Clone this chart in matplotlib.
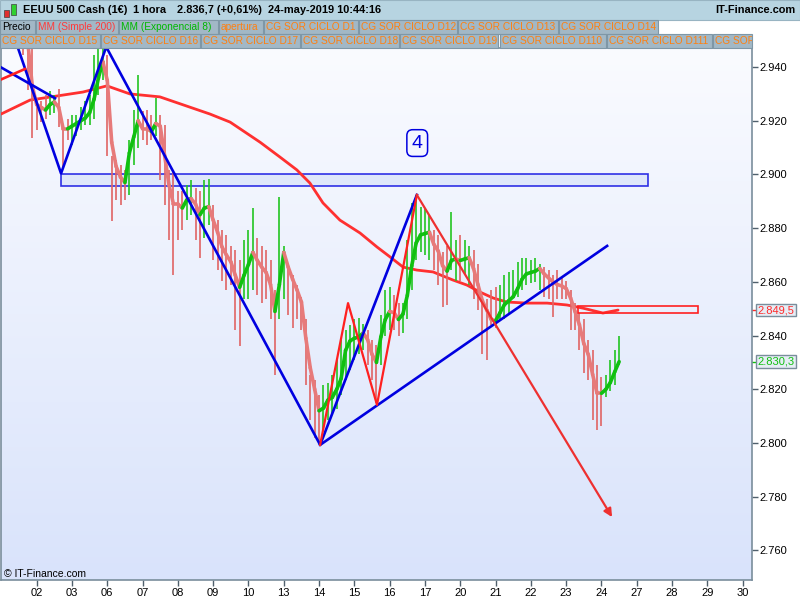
import numpy as np
import matplotlib
matplotlib.use('Agg')
import matplotlib.pyplot as plt
from matplotlib.collections import LineCollection
from matplotlib.colors import LinearSegmentedColormap
from matplotlib.patches import Rectangle
import matplotlib.transforms as mtransforms

plt.rcParams['font.family'] = ['Liberation Sans', 'DejaVu Sans']

# --- Data (S&P 500 cash, 3-hour bars, prices in points) ---
day_labels = ['02', '03', '06', '07', '08', '09', '10', '13', '14', '15', '16',
              '17', '20', '21', '22', '23', '24', '27', '28', '29', '30']
bar_start = -1.0      # first bar, in trading days from the "02" tick
bar_step = 0.125      # one bar = 3 hours

highs = [2962, 2961, 2960, 2960, 2959, 2958, 2957, 2950, 2928.5, 2927.5,
         2929.5, 2931, 2929.5, 2932, 2918.5, 2920.5, 2922, 2922, 2925, 2927.5,
         2929.5, 2944.5, 2948, 2949, 2944.5, 2907, 2905.5, 2903.5, 2901.5, 2913,
         2924, 2937, 2923.5, 2924, 2922, 2928.5, 2922, 2918.5, 2901.5, 2901,
         2894, 2894, 2896, 2898, 2895, 2894, 2898, 2898.5, 2888.5, 2883,
         2879.5, 2877.5, 2873.5, 2872, 2868, 2875.5, 2879.5, 2887.5, 2876.5, 2873.5,
         2872, 2868, 2857, 2891.5, 2873.5, 2866.5, 2862.5, 2859, 2854.5, 2846,
         2825.5, 2823.5, 2818, 2821.5, 2822.5, 2825.5, 2831, 2838.5, 2842, 2844,
         2846, 2846.5, 2844.5, 2842, 2838.5, 2836.5, 2847.5, 2857, 2858, 2855,
         2852, 2852, 2875.5, 2889.5, 2892.5, 2888, 2887, 2885, 2879.5, 2877.5,
         2871, 2873.5, 2886, 2875.5, 2877.5, 2875.5, 2873.5, 2872, 2866.5, 2854.5,
         2853.5, 2857, 2858, 2859, 2862.5, 2863.5, 2864.5, 2867.5, 2869, 2869,
         2868, 2869, 2866.5, 2865.5, 2864.5, 2862.5, 2864.5, 2862, 2860.5, 2857,
         2852, 2848.5, 2846, 2838.5, 2834.5, 2829, 2824.5, 2825.5, 2831, 2834.5,
         2840]
lows = [2951, 2951, 2950, 2950, 2949, 2944.5, 2931.5, 2913.5, 2916.5, 2919.5,
        2920.5, 2922, 2923, 2917.5, 2902.5, 2913, 2911, 2914.5, 2916.5, 2918.5,
        2918.5, 2920.5, 2929.5, 2935, 2907, 2882.5, 2890.5, 2888.5, 2890.5, 2892.5,
        2903.5, 2910, 2913, 2911, 2913, 2914.5, 2898, 2888.5, 2875.5, 2862.5,
        2875.5, 2879.5, 2883, 2885, 2875.5, 2869, 2876.5, 2881, 2868, 2864.5,
        2860.5, 2857, 2859, 2842, 2836, 2853.5, 2853.5, 2857, 2855, 2852,
        2853.5, 2846, 2825.5, 2846, 2853.5, 2847.5, 2843, 2846, 2842, 2821.5,
        2808.5, 2802, 2800, 2805, 2808.5, 2810.5, 2812.5, 2818, 2823.5, 2827,
        2831, 2833, 2834.5, 2829, 2823.5, 2815, 2829, 2840, 2842, 2842,
        2840, 2841, 2846, 2857, 2868, 2871, 2870, 2868, 2864.5, 2859,
        2850.5, 2851.5, 2864.5, 2860.5, 2860.5, 2862.5, 2859, 2853.5, 2849.5, 2833,
        2831, 2844, 2843, 2846, 2846, 2847.5, 2854.5, 2854.5, 2857, 2859,
        2859.5, 2860, 2857, 2854.5, 2853.5, 2847, 2853.5, 2853.5, 2853.5, 2842,
        2842, 2834.5, 2826, 2823.5, 2808.5, 2805, 2806.5, 2817, 2819.5, 2821.5,
        2829]
ema8 = [2956, 2956, 2956, 2955, 2955, 2953, 2949, 2933, 2926, 2925,
        2924, 2926, 2927, 2925, 2917, 2917, 2918, 2919, 2920, 2921,
        2923, 2928, 2936, 2942, 2935, 2912, 2903, 2899, 2897, 2908,
        2914, 2920, 2917, 2917, 2916, 2919, 2918, 2907, 2896, 2889,
        2889, 2887.5, 2890.5, 2891, 2889, 2885, 2887.5, 2888, 2883, 2878.5,
        2873, 2870, 2867.5, 2862.5, 2858, 2862.5, 2866.5, 2871, 2868, 2865.5,
        2863.5, 2859, 2849, 2859, 2871, 2865.5, 2861, 2857, 2852.5, 2839,
        2828, 2820, 2812, 2813, 2816, 2817, 2820, 2824, 2834.5, 2838,
        2839, 2839.5, 2841, 2838.5, 2833, 2830, 2839.5, 2846, 2849, 2848.5,
        2846, 2848, 2855, 2866, 2874.5, 2877.5, 2878, 2878.5, 2874, 2871.5,
        2866, 2864, 2868, 2868.5, 2868, 2868.5, 2869, 2865, 2859, 2853,
        2849.5, 2846, 2845.5, 2848.5, 2851.5, 2853, 2854.5, 2857.5, 2861, 2863,
        2863.5, 2864, 2865, 2863, 2861.5, 2860, 2859, 2858.5, 2857.5, 2854,
        2849, 2844, 2837, 2833, 2825.5, 2818.5, 2818.5, 2820, 2822.5, 2826.5,
        2830.3]

sma_days = [-1.01, -0.19, 1.31, 1.99, 2.64, 3.49, 4.91, 5.48, 6.33, 6.89,
            7.37, 7.74, 8.11, 8.59, 9.16, 9.64, 10.01, 10.38, 10.77, 11.23,
            11.79, 12.19, 12.56, 12.93, 13.32, 13.89, 14.46, 15.02, 15.48, 16.04, 16.47]
sma200 = [2922.5, 2927.7, 2930.7, 2933, 2930, 2928.9, 2922.5, 2919.5, 2912, 2906.5,
          2901.7, 2896.8, 2889.4, 2883, 2878.2, 2873, 2869.3, 2865.5, 2864.4, 2863.7,
          2860.7, 2858.8, 2856.2, 2854, 2852.5, 2852.1, 2852.1, 2851.4, 2850.2, 2848.4, 2849.5]

# drawn objects (days, points)
blue_zz_days = [-0.71, 0.69, 1.97, 8.03, 10.77]
blue_zz_vals = [2954, 2900.4, 2947.5, 2799.3, 2892.4]
blue_trend_days = [8.03, 16.16]
blue_trend_vals = [2799.3, 2873.4]
blue_short_days = [-1.04, 0.52]
blue_short_vals = [2940.1, 2928.4]
red_short_days = [-1.04, -0.33]
red_short_vals = [2935.2, 2939.3]
red_zz_days = [8.03, 8.82, 9.64, 10.77]
red_zz_vals = [2799.3, 2852.1, 2814.2, 2892.4]
arrow_start = (10.77, 2892.4)
arrow_end = (16.30, 2772.4)
blue_box = (0.69, 17.32, 2895.7, 2900.2)
red_box = (15.33, 18.73, 2848.4, 2851.0)
note_pos = (10.78, 2911.7)

last_price_sma = 2849.5
last_price_ema = 2830.3

GREEN = '#22c522'
RED_BAR = '#e06464'
BLUE = '#0000e0'

# --- Figure ---
fig = plt.figure(figsize=(8, 6), dpi=100)
fig.patch.set_facecolor('white')
ax = fig.add_axes([1 / 800, 20 / 600, 751 / 800, 532 / 600])

bg = LinearSegmentedColormap.from_list('bg', ['#d9e3fb', '#fafbff'])
ax.imshow(np.linspace(0, 1, 256).reshape(-1, 1), cmap=bg, origin='lower',
          extent=[0, 1, 0, 1], transform=ax.transAxes, aspect='auto', zorder=0)

x = bar_start + bar_step * np.arange(len(highs))
e = np.array(ema8)
up = np.r_[False, np.diff(e) > 0]

# SMA 200
ax.plot(sma_days, sma200, color='#ff3030', lw=2.0, zorder=3, solid_capstyle='round')

# bars (high-low)
ax.vlines(x, lows, highs, colors=np.where(up, GREEN, RED_BAR), lw=1.2, zorder=3)

# EMA 8, green when rising
pts = np.column_stack([x, e])
segs = np.stack([pts[:-1], pts[1:]], axis=1)
seg_up = np.diff(e) > 0
lc = LineCollection(segs, colors=np.where(seg_up, '#10c010', '#e77a7a'),
                    linewidths=2.6, zorder=4, capstyle='round')
ax.add_collection(lc)

# drawn boxes
ax.add_patch(Rectangle((blue_box[0], blue_box[2]), blue_box[1] - blue_box[0],
                       blue_box[3] - blue_box[2], facecolor='#dbe4fa', alpha=0.8,
                       edgecolor=BLUE, lw=1.2, zorder=2))
ax.add_patch(Rectangle((red_box[0], red_box[2]), red_box[1] - red_box[0],
                       red_box[3] - red_box[2], facecolor='none',
                       edgecolor='#ff2020', lw=1.2, zorder=5))

# drawn lines
ax.plot(blue_zz_days, blue_zz_vals, color=BLUE, lw=1.9, zorder=6)
ax.plot(blue_trend_days, blue_trend_vals, color=BLUE, lw=1.9, zorder=6)
ax.plot(blue_short_days, blue_short_vals, color=BLUE, lw=1.9, zorder=6)
ax.plot(red_short_days, red_short_vals, color='#ff2020', lw=1.9, zorder=6)
ax.plot(red_zz_days, red_zz_vals, color='#ff2020', lw=1.6, zorder=6)
ax.annotate('', xy=arrow_end, xytext=arrow_start,
            arrowprops=dict(arrowstyle='-|>', color='#ee3030', lw=1.6,
                            mutation_scale=12, shrinkA=0, shrinkB=0), zorder=6)

ax.text(note_pos[0], note_pos[1], '4', color=BLUE, fontsize=14, ha='center',
        va='center', zorder=7,
        bbox=dict(boxstyle='round,pad=0.25,rounding_size=0.3', fc='#f4f6ff',
                  ec=BLUE, lw=1.1))

ax.text(3 / 751, 6 / 532, '© IT-Finance.com', transform=ax.transAxes,
        fontsize=7.5, va='center', ha='left', zorder=7)

# axes
ax.set_xlim(-1.011, 20.264)
ax.set_ylim(2748.98, 2947.1)
ax.set_xticks(range(len(day_labels)))
ax.set_xticklabels(day_labels, fontsize=8)
yt = np.arange(2760, 2941, 20)
ax.set_yticks(yt)
ax.set_yticklabels([f'{v / 1000:.3f}' for v in yt], fontsize=8)
for lab, v in zip(ax.get_yticklabels(), yt):
    if v in (2800, 2900):
        lab.set_fontweight('bold')
ax.yaxis.tick_right()
ax.tick_params(axis='both', direction='out', length=4, width=1,
               color='#50606c', pad=1.5)
for sp in ax.spines.values():
    sp.set_color('#7a8e9c')
    sp.set_linewidth(1.2)

# last value labels on the price axis
tr = mtransforms.blended_transform_factory(ax.transAxes, ax.transData)
for val, col in [(last_price_sma, '#ff2a2a'), (last_price_ema, '#10c010')]:
    ax.plot([1.0, 1.0 + 5 / 751], [val, val], color=col, lw=1, transform=tr,
            clip_on=False)
    ax.text(1.0 + 5.5 / 751, val, f'{val / 1000:.4f}'[:5] + ',' + f'{val:.1f}'[-1],
            transform=tr, color=col, fontsize=8, va='center', ha='left',
            bbox=dict(boxstyle='square,pad=0.12', fc='#e6edf5', ec='#7a8e9c', lw=1))

# header bar
fig.patches.append(Rectangle((0, 1 - 20 / 600), 1, 20 / 600, transform=fig.transFigure,
                             fc='#b7d4e1', ec='#98b4c2', lw=0.8, zorder=0))
fig.patches.append(Rectangle((4 / 800, 1 - 17 / 600), 5 / 800, 7 / 600,
                             transform=fig.transFigure, fc='#e03030', ec='#404040', lw=0.5))
fig.patches.append(Rectangle((11 / 800, 1 - 15 / 600), 5 / 800, 11 / 600,
                             transform=fig.transFigure, fc='#30d030', ec='#404040', lw=0.5))
hy = 1 - 10 / 600
for txt, px in [('EEUU 500 Cash (1€)', 23), ('1 hora', 133),
                ('2.836,7 (+0,61%)', 177), ('24-may-2019 10:44:16', 268)]:
    fig.text(px / 800, hy, txt, fontsize=7.9, fontweight='bold', va='center', ha='left')
fig.text(795 / 800, hy, 'IT-Finance.com', fontsize=7.9, fontweight='bold',
         va='center', ha='right')

# indicator legend rows
legend_row1 = [('Precio', 'black', 0, 35), ('MM (Simple 200)', '#ff3a3a', 36, 118),
               ('MM (Exponencial 8)', '#00b800', 119, 218), ('apertura', '#ff8010', 219, 263),
               ('CG SOR CICLO D1', '#ff8010', 264, 358), ('CG SOR CICLO D12', '#ff8010', 359, 457),
               ('CG SOR CICLO D13', '#ff8010', 458, 558), ('CG SOR CICLO D14', '#ff8010', 559, 658)]
legend_row2 = [('CG SOR CICLO D15', '#ff8010', 0, 100), ('CG SOR CICLO D16', '#ff8010', 101, 200),
               ('CG SOR CICLO D17', '#ff8010', 201, 300), ('CG SOR CICLO D18', '#ff8010', 301, 399),
               ('CG SOR CICLO D19', '#ff8010', 400, 498), ('CG SOR CICLO D110', '#ff8010', 500, 606),
               ('CG SOR CICLO D111', '#ff8010', 607, 712), ('CG SOR', '#ff8010', 713, 752)]
for row, (y0, y1) in [(legend_row1, (20, 34)), (legend_row2, (34, 48))]:
    for txt, col, x0, x1 in row:
        fig.patches.append(Rectangle((x0 / 800, 1 - y1 / 600), (x1 - x0) / 800,
                                     (y1 - y0) / 600, transform=fig.transFigure,
                                     fc='#a2b8c6', ec='#7f97a6', lw=0.8))
        t = fig.text((x0 + 2) / 800, 1 - (y0 + y1) / 2 / 600, txt, color=col,
                     fontsize=7.3, va='center', ha='left')
        t.set_clip_path(Rectangle((x0 / 800, 1 - y1 / 600), (x1 - x0) / 800,
                                  (y1 - y0) / 600, transform=fig.transFigure))

fig.savefig('out.png', dpi=100)
